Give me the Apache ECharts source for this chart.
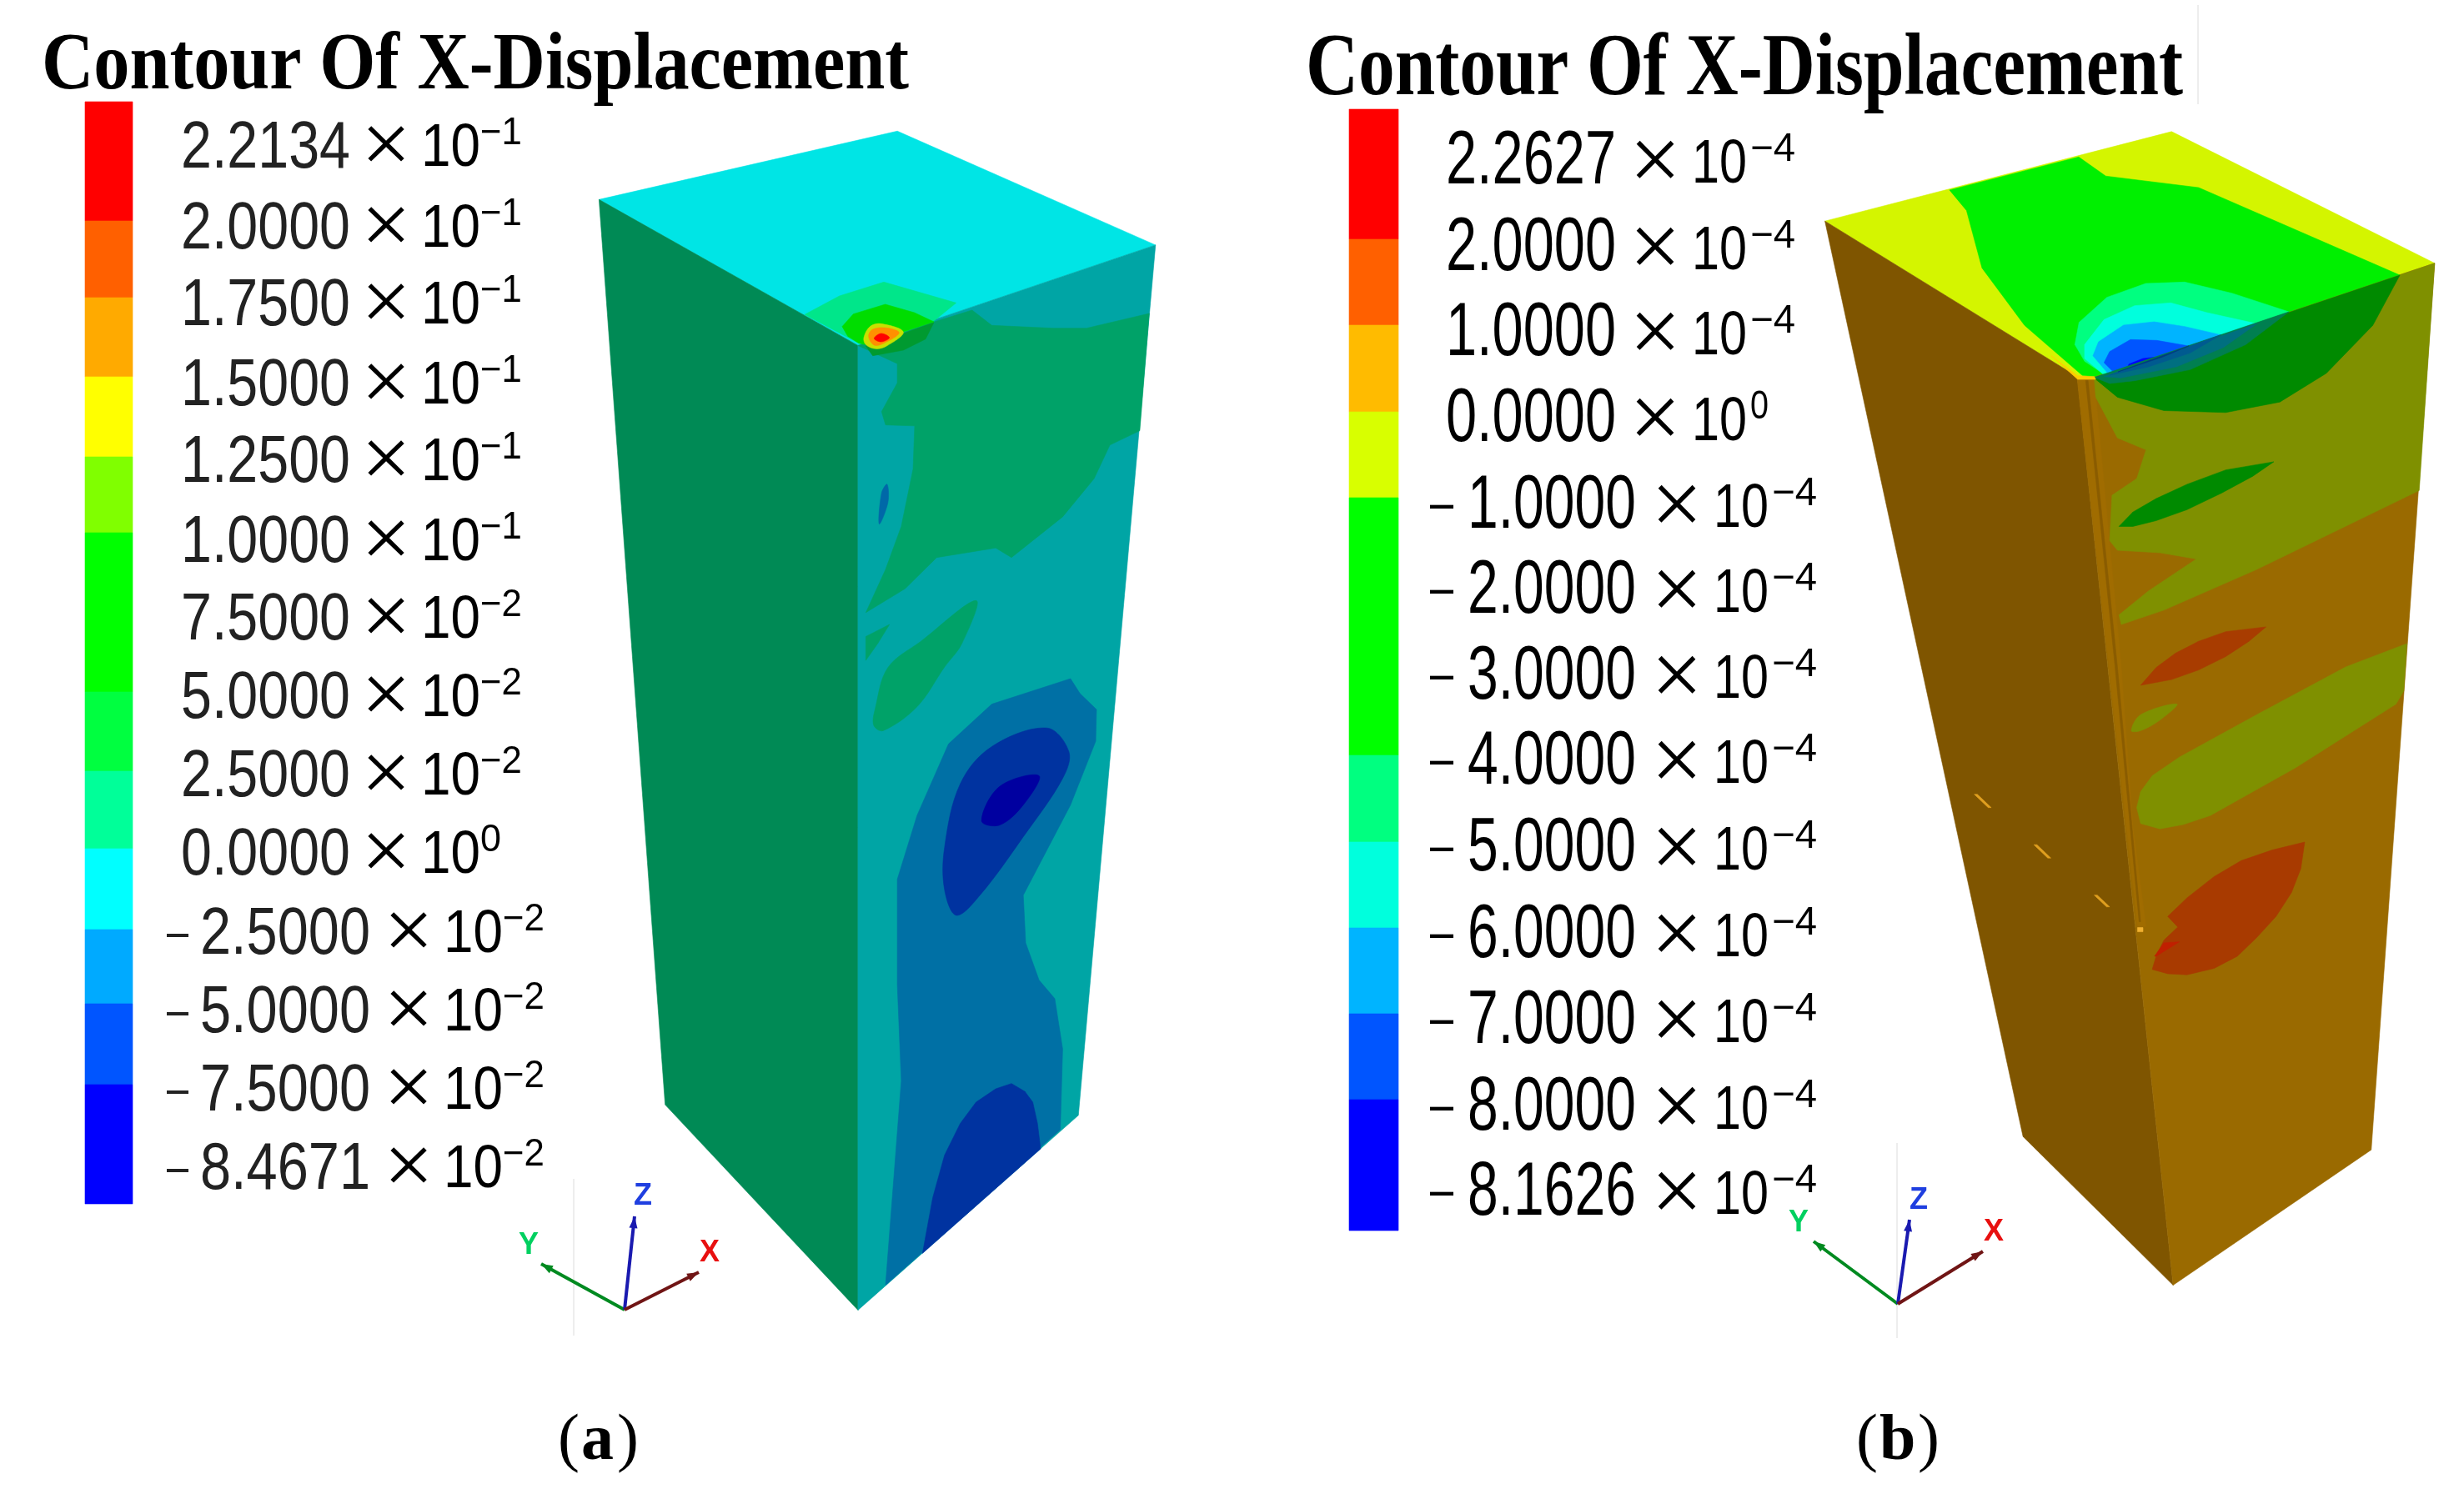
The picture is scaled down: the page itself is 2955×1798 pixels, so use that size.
<!DOCTYPE html>
<html><head><meta charset="utf-8">
<style>html,body{margin:0;padding:0;background:#fff}#c{width:2955px;height:1798px}</style>
<script src="https://cdn.jsdelivr.net/npm/echarts@6/dist/echarts.min.js"></script>
</head><body><div id="c"></div>
<script>
// ---------- legend values ----------
const titleText = 'Contour Of X-Displacement';
const valuesA = ['2.2134','2.0000','1.7500','1.5000','1.2500','1.0000','7.5000','5.0000','2.5000','0.0000','-2.5000','-5.0000','-7.5000','-8.4671'];
const expsA   = ['−1','−1','−1','−1','−1','−1','−2','−2','−2','0','−2','−2','−2','−2'];
const valuesB = ['2.2627','2.0000','1.0000','0.0000','-1.0000','-2.0000','-3.0000','-4.0000','-5.0000','-6.0000','-7.0000','-8.0000','-8.1626'];
const expsB   = ['−4','−4','−4','0','−4','−4','−4','−4','−4','−4','−4','−4','−4'];
const rowsA = [175,272,364,460,552,648,741,835,929,1023,1118,1212,1306,1400];
const rowsB = [192,296,398,501,605,707,810,912,1016,1120,1223,1327,1429];
const bandEdgesA = [122,265,357,452,548,639,830,925,1018,1115,1204,1301,1444];
const bandColorsA = ['#ff0000','#ff6000','#ffaa00','#ffff00','#80ff00','#00ff00','#00ff40','#00ff99','#00ffff','#00aaff','#0055ff','#0000ff'];
const bandEdgesB = [131,287,390,494,597,906,1010,1113,1216,1319,1476];
const bandColorsB = ['#ff0000','#ff6000','#ffbb00','#d8ff00','#00ff00','#00ff80','#00ffdd','#00b4ff','#0055ff','#0000ff'];

const A1=p=>p.map(([x,y])=>[x*.944,y*.574]);
const A2=p=>p.map(([x,y])=>[x*.944,800+y*.6365]);
const B1=p=>p.map(([x,y])=>[1500+x*.928,y*.574]);
const B2=p=>p.map(([x,y])=>[1500+x*.928,800+y*.6365]);
const H=p=>p.map(([x,y])=>[950+x/3,320+y/3]);
const K=p=>p.map(([x,y])=>[2460+x/3,320+y/3]);
const poly=(color,...parts)=>({color,points:[].concat(...parts)});
const blob=(color,...parts)=>({color,smooth:.35,points:[].concat(...parts)});

const shapes = [
 // ===== panel a =====
 poly('#00e5e5',A1([[761,417],[1140,274],[1468,512],[1090,722]])),
 poly('#008a55',A1([[761,417],[1090,722]]),A2([[1090,1212],[845,825]])),
 poly('#00a5a5',A1([[1090,722],[1468,512]]),A2([[1370,845],[1090,1212]])),
 poly('#00a268',A1([[1090,722],[1235,648],[1260,680],[1340,686],[1380,686],[1460,655],[1448,900],[1410,930],[1390,1000],[1350,1080],[1285,1165],[1265,1145],[1190,1165],[1150,1230],[1100,1280],[1125,1190],[1145,1100],[1160,980],[1162,890],[1125,888],[1120,860],[1140,800],[1140,760]])),
 blob('#0068a8',A1([[1117,1095],[1120,1030],[1127,1012],[1128,1050]])),
 blob('#00a268',A1([[1240,1255],[1170,1340],[1128,1395],[1112,1480]]),A2([[1110,110],[1122,120],[1165,75],[1200,0]]),A1([[1222,1345]])),
 poly('#00a268',A1([[1100,1380],[1100,1330],[1130,1305],[1115,1345]])),
 poly('#0070a5',A2([[1125,1165],[1145,780],[1140,600],[1140,400],[1165,280],[1205,145],[1260,70],[1360,22],[1372,50],[1393,80],[1392,140],[1360,260],[1300,430],[1303,520],[1320,590],[1340,625],[1350,720],[1347,872]])),
 blob('#0033a0',A2([[1200,340],[1220,220],[1260,150],[1330,115],[1358,160],[1350,210],[1300,320],[1245,430],[1215,468],[1200,420]])),
 blob('#0000a0',A2([[1247,290],[1270,225],[1320,205],[1300,260],[1270,298]])),
 poly('#0033a0',A2([[1172,1105],[1185,1000],[1200,920],[1220,860],[1240,820],[1265,795],[1285,785],[1302,800],[1312,820],[1318,860],[1322,908]])),
 poly('#00e68a',H([[45,172],[170,105],[330,55],[590,130],[510,195],[300,270],[240,275]])),
 poly('#009a30',H([[265,285],[400,240],[510,200],[480,260],[400,300],[290,320]])),
 poly('#00dd00',H([[180,215],[220,170],[335,135],[440,165],[510,198],[260,280],[240,275],[200,250]])),
 blob('#c8e000',H([[258,255],[280,215],[320,205],[400,235],[340,285],[300,295],[265,280]])),
 blob('#ff9000',H([[275,250],[290,225],[340,220],[385,238],[330,275],[295,282]])),
 blob('#ff0000',H([[295,258],[320,240],[350,255],[320,270]])),
 // ===== panel b =====
 poly('#d4f500',B1([[742,462],[1190,275],[1530,550],[1090,787],[1068,787]])),
 poly('#7f5500',B1([[742,462],[1068,787]]),B2([[1192,1165],[998,885]])),
 poly('#9a6a00',B1([[1068,787],[1090,787],[1530,550]]),B2([[1448,910],[1192,1165]])),
 poly('#a06c00',B1([[1068,790],[1090,790]]),B2([[1125,0],[1140,300],[1157,490],[1146,490]])),
 poly('#8a5c00',B1([[1079,795],[1082,795]]),B2([[1120,0],[1150,480],[1148,480],[1117,0]])),
 poly('#00f000',B1([[903,397],[1070,328],[1105,368],[1225,392],[1485,575],[1090,787],[1075,785],[1000,680],[945,560],[925,440]])),
 poly('#00ff80',K([[855,162],[650,95],[480,55],[340,60],[200,110],[100,200],[85,280],[120,340],[195,390]])),
 poly('#00ffdd',K([[740,205],[560,165],[430,130],[300,140],[190,190],[120,280],[120,330],[185,385]])),
 poly('#00b4ff',K([[610,245],[480,215],[370,198],[260,210],[170,270],[150,320],[205,385]])),
 poly('#0055ff',K([[495,285],[380,265],[285,262],[210,305],[190,345],[225,380]])),
 poly('#0000ff',K([[375,325],[330,330],[280,350],[270,368]])),
 poly('#7f9000',B1([[1090,790],[1530,550],[1510,1025],[1300,1190],[1180,1275],[1125,1305],[1122,1285],[1160,1235],[1222,1168],[1175,1155],[1120,1150],[1110,1130],[1113,1035],[1145,1000],[1157,940],[1120,915],[1092,830]])),
 poly('#008a00',B1([[1090,790],[1485,575],[1450,680],[1390,780],[1330,840],[1260,862],[1180,858],[1120,830]])),
 poly('#007f50',K([[855,162],[700,280],[500,370],[300,410],[210,420],[155,398]])),
 poly('#006f80',K([[740,205],[620,290],[450,360],[250,400],[190,395]])),
 poly('#005a90',K([[610,245],[500,310],[350,360],[210,390]])),
 poly('#003a80',K([[495,285],[400,325],[240,378]])),
 poly('#ffcc00',K([[0,320],[95,392],[155,395],[160,405],[95,405]])),
 poly('#008a00',B1([[1122,1100],[1140,1070],[1170,1042],[1210,1012],[1260,982],[1322,965],[1295,995],[1255,1030],[1210,1065],[1170,1088],[1140,1100]])),
 poly('#a83c00',B1([[1150,1432],[1170,1395],[1195,1365],[1225,1340],[1260,1320],[1312,1310],[1290,1340],[1260,1372],[1225,1400],[1190,1420]])),
 blob('#7f9000',B2([[1138,120],[1150,90],[1197,70],[1175,100],[1150,120]])),
 poly('#7f9000',B1([[1494,1345]]),B2([[1415,0],[1300,90],[1200,170],[1165,205],[1150,235],[1145,265],[1150,295],[1175,305],[1205,297],[1240,280],[1350,190],[1480,70],[1490,45]])),
 poly('#a83a00',B2([[1362,330],[1320,345],[1280,365],[1245,395],[1210,435],[1185,470],[1198,490],[1180,515],[1170,545],[1165,570],[1185,578],[1210,580],[1245,568],[1275,545],[1300,510],[1325,470],[1345,425],[1357,380]])),
 poly('#c02000',B2([[1170,545],[1200,518],[1180,520],[1168,545]])),
 poly('#e0a020',B2([[935,240],[939,240],[957,265],[953,265]])),
 poly('#e0a020',B2([[1012,335],[1016,335],[1034,360],[1030,360]])),
 poly('#e0a020',B2([[1090,430],[1094,430],[1110,452],[1106,452]])),
 poly('#f0b030',B2([[1146,491],[1153,491],[1153,499],[1146,499]])),
];

// colour-bar bands
[[bandEdgesA,bandColorsA,102,159],[bandEdgesB,bandColorsB,1618,1677]].forEach(([e,c,l,r])=>{
  c.forEach((col,i)=>shapes.push(poly(col,[[l,e[i]],[r,e[i]],[r,e[i+1]],[l,e[i+1]]])));
});

// axis triads: [origin, tip, colour]
const triads=[
 [[749,1571],[649,1516],'#008a20'],[[749,1571],[761,1459],'#1a1ab0'],[[749,1571],[838,1526],'#701515'],
 [[2276,1564],[2175,1489],'#008a20'],[[2276,1564],[2290,1463],'#1a1ab0'],[[2276,1564],[2378,1501],'#701515'],
];
const guides=[[[688,1414],[688,1602]],[[2636,6],[2636,125]],[[2275,1371],[2275,1605]]];

// ---------- text ----------
const cv=document.createElement('canvas').getContext('2d');
const fit=(t,font,w)=>{cv.font=font;return w/cv.measureText(t).width;};
const texts=[];
const T=(text,x,y,size,family,weight,color,width,align)=>{
  const font=`${weight} ${size}px "${family}"`;
  texts.push({text,x,y,font,color,align:align||'left',scale:width?fit(text,font,width):1});
};
const SANS='Liberation Sans',SERIF='Liberation Serif';
T(titleText,50,81,98,SERIF,'bold','#000',1040);
T(titleText,1566,86,106,SERIF,'bold','#000',1052);
// panel a legend
valuesA.forEach((v,i)=>{
  const y=rowsA[i]+4,neg=v[0]==='-',c='#222';
  if(neg){T('–',200,y-2,60,SANS,'normal','#222',26);T(v.slice(1),240,y,79,SANS,'normal',c,204);}
  else T(v,217,y,79,SANS,'normal',c,203);
  const dx=neg?27:0;
  T('×',463+dx,y+1,104,SERIF,'normal','#000',60,'center');
  T('10',505+dx,y,72,SANS,'normal','#000',71);
  const e=expsA[i];
  T(e,576+dx,y-19,46,SANS,'normal','#000',e.length>1?50:25);
});
// panel b legend
valuesB.forEach((v,i)=>{
  const y=rowsB[i]+3,neg=v[0]==='-';
  if(neg){T('–',1715,y-2,64,SANS,'normal','#000',28);T(v.slice(1),1760,y,90,SANS,'normal','#000',202);}
  else T(v,1734,y,90,SANS,'normal','#000',204);
  const dx=neg?26:0;
  T('×',1985+dx,y+4,110,SERIF,'normal','#000',62,'center');
  T('10',2029+dx,y+4,74,SANS,'normal','#000',66);
  const e=expsB[i];
  T(e,2099+dx,y-15,48,SANS,'normal','#000',e.length>1?54:22);
});
// triad labels
[['Y',634,1494,'#00d060'],['Z',771,1435,'#1f3fe0'],['X',851,1503,'#e81010'],
 ['Y',2157,1467,'#00d060'],['Z',2301,1440,'#1f3fe0'],['X',2391,1478,'#e81010']].forEach(([t,x,y,c])=>T(t,x,y,36,SANS,'bold',c,0,'center'));
// sub-captions
T('(',669,1730,78,SERIF,'normal','#000');T('a',697,1730,78,SERIF,'bold','#000');T(')',740,1730,78,SERIF,'normal','#000');
T('(',2226,1730,78,SERIF,'normal','#000');T('b',2254,1730,78,SERIF,'bold','#000');T(')',2300,1730,78,SERIF,'normal','#000');

const idx=a=>a.map((_,i)=>[i]);
const chart=echarts.init(document.getElementById('c'),null,{renderer:'canvas'});
chart.setOption({
 animation:false,backgroundColor:'#fff',tooltip:{show:false},
 grid:{left:0,right:0,top:0,bottom:0},
 xAxis:{type:'value',min:0,max:2955,show:false},
 yAxis:{type:'value',min:0,max:1798,inverse:true,show:false},
 series:[
  {type:'custom',silent:true,clip:false,z:1,data:idx(shapes),renderItem:(p,api)=>{
    const s=shapes[p.dataIndex];
    return {type:'polygon',shape:{points:s.points.map(q=>api.coord(q)),smooth:s.smooth||0},style:{fill:s.color,stroke:s.color,lineWidth:.6}};
  }},
  {type:'custom',silent:true,clip:false,z:2,data:idx(guides),renderItem:(p,api)=>{
    const g=guides[p.dataIndex];
    return {type:'polyline',shape:{points:g.map(q=>api.coord(q))},style:{stroke:'#dcdcdc',lineWidth:1,fill:'none'}};
  }},
  {type:'custom',silent:true,clip:false,z:3,data:idx(triads),renderItem:(p,api)=>{
    const [o,t,c]=triads[p.dataIndex];
    const a=api.coord(o),b=api.coord(t);
    const L=Math.hypot(b[0]-a[0],b[1]-a[1]),ux=(b[0]-a[0])/L,uy=(b[1]-a[1])/L;
    return {type:'group',children:[
      {type:'polyline',shape:{points:[a,b]},style:{stroke:c,lineWidth:4,fill:'none'}},
      {type:'polygon',shape:{points:[b,[b[0]-ux*14-uy*5,b[1]-uy*14+ux*5],[b[0]-ux*14+uy*5,b[1]-uy*14-ux*5]]},style:{fill:c}}
    ]};
  }},
  {type:'custom',silent:true,clip:false,z:4,data:idx(texts),renderItem:(p,api)=>{
    const t=texts[p.dataIndex];const q=api.coord([t.x,t.y]);
    return {type:'text',x:q[0],y:q[1],scaleX:t.scale,style:{text:t.text,font:t.font,fill:t.color,align:t.align,verticalAlign:'middle'}};
  }}
 ]
});
</script></body></html>
